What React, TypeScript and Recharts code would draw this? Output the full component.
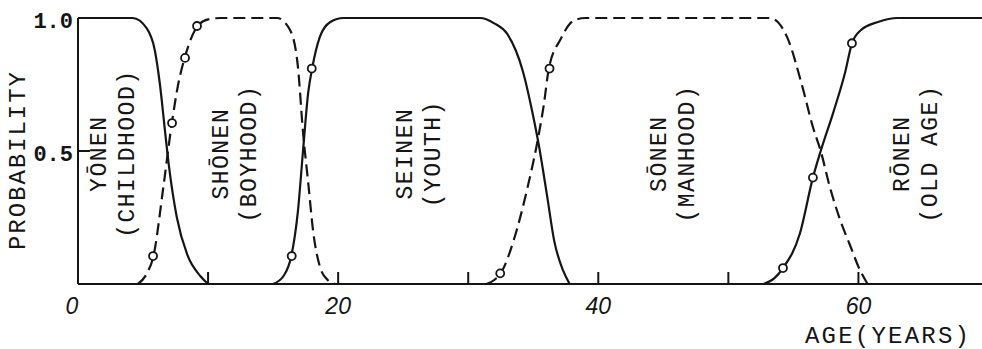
import { ComposedChart, Line, Scatter, XAxis, YAxis, Label } from 'recharts'

const ink = '#151515'
const mono = '"Liberation Mono", "DejaVu Sans Mono", monospace'

// axis ticks
const ageTicks = [0, 10, 20, 30, 40, 50, 60]
const ageTickLabels = ['0', '', '20', '', '40', '', '60']
const probTicks = [0.5, 1]
const probTickLabels = ['0.5', '1.0']

// curves (age in years, probability)
const yonen = [
  { age: 0, p: 1 }, { age: 4.2, p: 1 }, { age: 5.3, p: 0.96 }, { age: 5.9, p: 0.88 },
  { age: 6.3, p: 0.75 }, { age: 6.7, p: 0.57 }, { age: 7.0, p: 0.44 }, { age: 7.6, p: 0.25 },
  { age: 8.4, p: 0.11 }, { age: 9.4, p: 0.03 }, { age: 10, p: 0 },
]
const shonen = [
  { age: 4.6, p: 0 }, { age: 5.3, p: 0.04 }, { age: 5.8, p: 0.105 }, { age: 6.55, p: 0.36 },
  { age: 7.2, p: 0.6 }, { age: 7.7, p: 0.75 }, { age: 8.2, p: 0.85 }, { age: 9.2, p: 0.97 },
  { age: 10, p: 0.995 }, { age: 11, p: 1 }, { age: 15.3, p: 1 }, { age: 16.3, p: 0.955 },
  { age: 16.9, p: 0.82 }, { age: 17.3, p: 0.57 }, { age: 17.7, p: 0.38 }, { age: 18.1, p: 0.19 },
  { age: 18.6, p: 0.065 }, { age: 19.2, p: 0.015 }, { age: 19.8, p: 0 },
]
const seinen = [
  { age: 15, p: 0 }, { age: 15.8, p: 0.03 }, { age: 16.4, p: 0.105 }, { age: 16.9, p: 0.27 },
  { age: 17.3, p: 0.5 }, { age: 17.7, p: 0.72 }, { age: 18.0, p: 0.81 }, { age: 18.6, p: 0.93 },
  { age: 19.4, p: 0.985 }, { age: 20.4, p: 1 }, { age: 30.9, p: 1 }, { age: 32, p: 0.98 },
  { age: 33, p: 0.94 }, { age: 34.2, p: 0.8 }, { age: 35, p: 0.63 }, { age: 35.4, p: 0.53 },
  { age: 36.1, p: 0.32 }, { age: 36.6, p: 0.165 }, { age: 37.3, p: 0.05 }, { age: 37.8, p: 0 },
]
const sonen = [
  { age: 31.4, p: 0 }, { age: 32, p: 0.015 }, { age: 32.5, p: 0.04 }, { age: 33.5, p: 0.165 },
  { age: 34.5, p: 0.35 }, { age: 35.3, p: 0.53 }, { age: 35.8, p: 0.67 }, { age: 36.2, p: 0.81 },
  { age: 37.1, p: 0.92 }, { age: 38.1, p: 0.99 }, { age: 39, p: 1 }, { age: 53.2, p: 1 },
  { age: 54.5, p: 0.93 }, { age: 55.7, p: 0.74 }, { age: 56.5, p: 0.59 }, { age: 57.1, p: 0.5 },
  { age: 57.8, p: 0.365 }, { age: 58.6, p: 0.24 }, { age: 59.4, p: 0.14 }, { age: 60, p: 0.065 },
  { age: 60.7, p: 0 },
]
const ronen = [
  { age: 52.7, p: 0 }, { age: 53.5, p: 0.02 }, { age: 54.2, p: 0.06 }, { age: 55.5, p: 0.19 },
  { age: 56.5, p: 0.4 }, { age: 57.1, p: 0.5 }, { age: 58.1, p: 0.65 }, { age: 59.0, p: 0.8 },
  { age: 59.5, p: 0.905 }, { age: 60.2, p: 0.955 }, { age: 61.5, p: 0.985 }, { age: 63, p: 1 },
  { age: 69.5, p: 1 },
]

// observed points (open circles)
const observed = [
  { age: 5.77, p: 0.105 }, { age: 7.23, p: 0.605 }, { age: 8.23, p: 0.85 }, { age: 9.15, p: 0.97 },
  { age: 16.43, p: 0.105 }, { age: 17.97, p: 0.81 }, { age: 32.46, p: 0.04 }, { age: 36.25, p: 0.81 },
  { age: 54.2, p: 0.06 }, { age: 56.5, p: 0.4 }, { age: 59.5, p: 0.905 },
]

// stage names, placed at the middle of each stage
const stages = [
  { age: 2.8, p: 0.49, name: 'YŌNEN', gloss: '(CHILDHOOD)' },
  { age: 12.15, p: 0.49, name: 'SHŌNEN', gloss: '(BOYHOOD)' },
  { age: 26.3, p: 0.49, name: 'SEINEN', gloss: '(YOUTH)' },
  { age: 45.8, p: 0.49, name: 'SŌNEN', gloss: '(MANHOOD)' },
  { age: 64.5, p: 0.49, name: 'RŌNEN', gloss: '(OLD AGE)' },
]

const XTick = (props: any) => {
  const { x, y, payload } = props
  const label = ageTickLabels[ageTicks.indexOf(payload.value)]
  return (
    <g>
      {payload.value > 0 && <line x1={x} y1={y} x2={x} y2={y - 12} stroke={ink} strokeWidth={2} />}
      {label && (
        <text x={x + (payload.value === 0 ? -6 : 0)} y={y + 22} textAnchor="middle" dominantBaseline="central"
          fontFamily='"Liberation Sans", Arial, sans-serif' fontStyle="italic" fontSize={23} fill={ink}>
          {label}
        </text>
      )}
    </g>
  )
}

const YTick = (props: any) => {
  const { x, y, payload } = props
  const label = probTickLabels[probTicks.indexOf(payload.value)]
  return (
    <g>
      {payload.value < 1 && <line x1={x} y1={y} x2={x + 12} y2={y} stroke={ink} strokeWidth={2} />}
      <text x={x - 5} y={y + 4} textAnchor="end" dominantBaseline="central" fontFamily={mono}
        fontWeight="bold" fontSize={22} fill={ink}>
        {label}
      </text>
    </g>
  )
}

const Circle = (props: any) => (
  <circle cx={props.cx} cy={props.cy} r={4} fill="#fff" stroke={ink} strokeWidth={1.8} />
)

const StageLabel = (props: any) => {
  const { cx, cy, payload } = props
  return (
    <g transform={`rotate(-90, ${cx}, ${cy})`} fontFamily={mono} fontSize={23} fill={ink} letterSpacing={1.5}>
      <text x={cx} y={cy - 14} textAnchor="middle" dominantBaseline="central">{payload.name}</text>
      <text x={cx} y={cy + 14} textAnchor="middle" dominantBaseline="central">{payload.gloss}</text>
    </g>
  )
}

export default function App() {
  return (
    <div style={{ position: 'absolute', left: 0, top: 0, background: '#fff' }}>
      <ComposedChart width={982} height={349} margin={{ top: 18, right: 0, bottom: 0, left: 0 }}>
        <XAxis dataKey="age" type="number" domain={[0, 69.5]} ticks={ageTicks} interval={0}
          height={65} tickSize={0} tickMargin={0} tickLine={false} tick={<XTick />}
          axisLine={{ stroke: ink, strokeWidth: 2 }} allowDataOverflow>
          <Label content={() => (
            <text x={805} y={336} dominantBaseline="central" fontFamily={mono} fontSize={24}
              textLength={164} lengthAdjust="spacing" fill={ink}>AGE(YEARS)</text>
          )} />
        </XAxis>
        <YAxis type="number" domain={[0, 1]} ticks={probTicks} interval={0} width={78}
          tickSize={0} tickMargin={0} tickLine={false} tick={<YTick />}
          axisLine={{ stroke: ink, strokeWidth: 2 }}>
          <Label content={() => (
            <text x={18} y={161} transform="rotate(-90, 18, 161)" textAnchor="middle" dominantBaseline="central"
              fontFamily={mono} fontSize={24} textLength={178} lengthAdjust="spacing" fill={ink}>PROBABILITY</text>
          )} />
        </YAxis>
        <Line data={yonen} dataKey="p" type="monotone" stroke={ink} strokeWidth={2.2} dot={false} isAnimationActive={false} />
        <Line data={shonen} dataKey="p" type="monotone" stroke={ink} strokeWidth={2.2} strokeDasharray="12 6" dot={false} isAnimationActive={false} />
        <Line data={seinen} dataKey="p" type="monotone" stroke={ink} strokeWidth={2.2} dot={false} isAnimationActive={false} />
        <Line data={sonen} dataKey="p" type="monotone" stroke={ink} strokeWidth={2.2} strokeDasharray="12 6" dot={false} isAnimationActive={false} />
        <Line data={ronen} dataKey="p" type="monotone" stroke={ink} strokeWidth={2.2} dot={false} isAnimationActive={false} />
        <Scatter data={observed} dataKey="p" shape={<Circle />} isAnimationActive={false} />
        <Scatter data={stages} dataKey="p" shape={<StageLabel />} isAnimationActive={false} />
      </ComposedChart>
    </div>
  )
}
